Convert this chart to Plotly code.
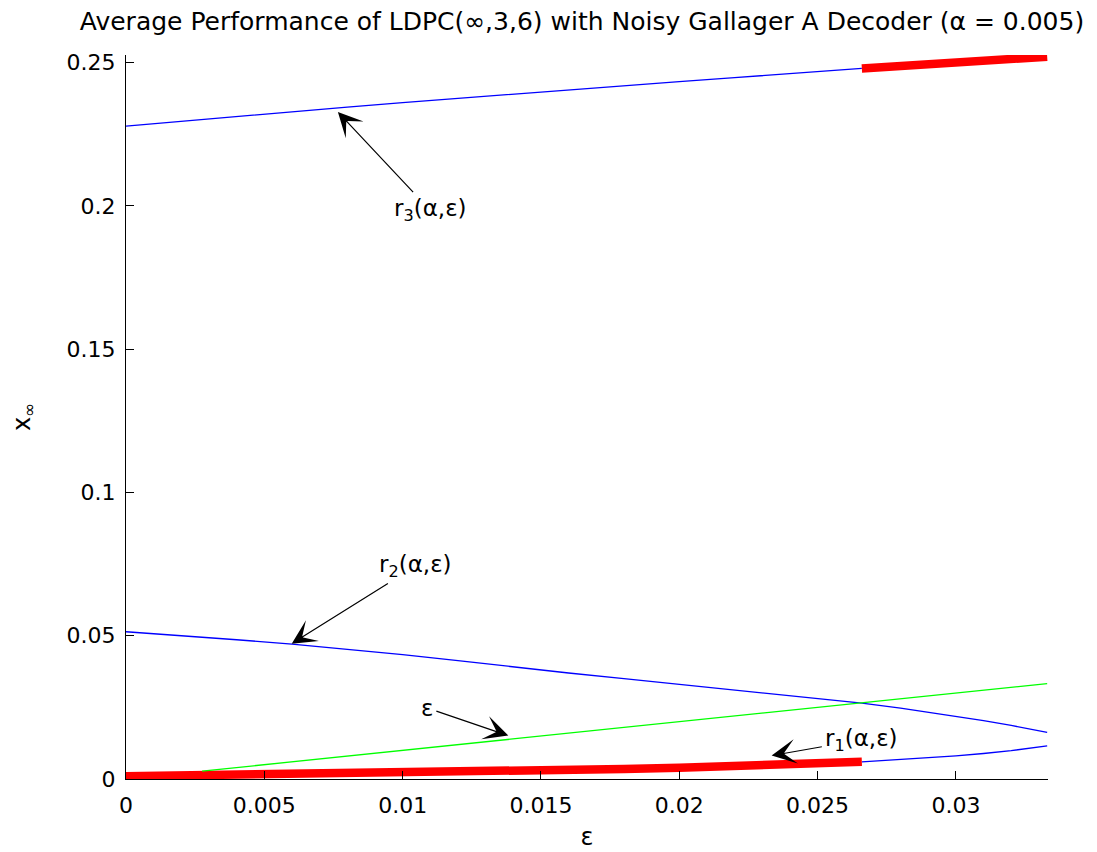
import plotly.graph_objects as go

# ---------------- data ----------------
eps = [0.0, 0.002, 0.004, 0.006, 0.008, 0.010, 0.012, 0.014, 0.016, 0.018,
       0.020, 0.022, 0.024, 0.026, 0.0266, 0.028, 0.029, 0.030, 0.031, 0.032, 0.0333]
r3 = [0.2279, 0.2296, 0.2313, 0.2329, 0.2345, 0.2361, 0.2376, 0.2391, 0.2406, 0.2420,
      0.2434, 0.2448, 0.2462, 0.2476, 0.2480, 0.2490, 0.2497, 0.2503, 0.2509, 0.2514, 0.2521]
r2 = [0.0514, 0.0501, 0.0486, 0.0471, 0.0453, 0.0434, 0.0413, 0.0391, 0.0370, 0.0350,
      0.0330, 0.0311, 0.0291, 0.0272, 0.0265, 0.0247, 0.0233, 0.0219, 0.0204, 0.0187, 0.0163]
r1 = [0.0010, 0.0012, 0.0014, 0.0016, 0.0018, 0.0021, 0.0024, 0.0027, 0.0031, 0.0035,
      0.0039, 0.0044, 0.0050, 0.0057, 0.0060, 0.0068, 0.0074, 0.0081, 0.0089, 0.0099, 0.0116]
eps_switch = 0.0266          # where the reached fixed point jumps from r1 to r3
eps_line_x = [0.00275, 0.0333]
eps_line_y = [0.00275, 0.0333]

x_ticks = [0, 0.005, 0.01, 0.015, 0.02, 0.025, 0.03]
x_tick_text = ["0", "0.005", "0.01", "0.015", "0.02", "0.025", "0.03"]
y_ticks = [0, 0.05, 0.1, 0.15, 0.2, 0.25]
y_tick_text = ["0", "0.05", "0.1", "0.15", "0.2", "0.25"]

label_text = ["r<sub>3</sub>(α,ε)", "r<sub>2</sub>(α,ε)", "ε", "r<sub>1</sub>(α,ε)"]
label_x = [0.01099, 0.01048, 0.01088, 0.0266]
label_y = [0.1986, 0.0744, 0.0248, 0.0137]
head_x = [0.00766, 0.00599, 0.01382, 0.02334]
head_y = [0.2328, 0.04723, 0.01514, 0.00816]

title_text = "Average Performance of LDPC(∞,3,6) with Noisy Gallager A Decoder (α = 0.005)"

# ---------------- figure ----------------
FONT = "DejaVu Sans"
BLUE, RED, GREEN = "#0000ff", "#ff0000", "#00ff00"
W, H = 1089, 844   # page body adds an 8px margin

i_sw = eps.index(eps_switch)
fig = go.Figure()
# blue (unreached) branches
fig.add_trace(go.Scatter(x=eps[:i_sw + 1], y=r3[:i_sw + 1], mode="lines",
                         line=dict(color=BLUE, width=1.3), hoverinfo="skip"))
fig.add_trace(go.Scatter(x=eps, y=r2, mode="lines",
                         line=dict(color=BLUE, width=1.3), hoverinfo="skip"))
fig.add_trace(go.Scatter(x=eps[i_sw:], y=r1[i_sw:], mode="lines",
                         line=dict(color=BLUE, width=1.3), hoverinfo="skip"))
# red (reached) branches
fig.add_trace(go.Scatter(x=eps[:i_sw + 1], y=r1[:i_sw + 1], mode="lines",
                         line=dict(color=RED, width=8.5), hoverinfo="skip"))
fig.add_trace(go.Scatter(x=eps[i_sw:], y=r3[i_sw:], mode="lines",
                         line=dict(color=RED, width=8.5), hoverinfo="skip"))
# epsilon line
fig.add_trace(go.Scatter(x=eps_line_x, y=eps_line_y, mode="lines",
                         line=dict(color=GREEN, width=1.3), hoverinfo="skip"))

annotations = []
for t, lx, ly, hx, hy in zip(label_text, label_x, label_y, head_x, head_y):
    annotations.append(dict(x=hx, y=hy, ax=lx, ay=ly, xref="x", yref="y",
                            axref="x", ayref="y", text=t, showarrow=True,
                            xanchor="center", yanchor="middle",
                            arrowhead=3, arrowsize=3.4, arrowwidth=1.2,
                            arrowcolor="black", standoff=0, startstandoff=2,
                            font=dict(family=FONT, size=23, color="black")))

axis_common = dict(showline=True, linecolor="black", linewidth=1, mirror=False,
                   ticks="inside", ticklen=8, tickwidth=1, tickcolor="black",
                   showgrid=False, zeroline=False, automargin=False,
                   tickfont=dict(family=FONT, size=22, color="black"))

fig.update_layout(
    width=W, height=H,
    margin=dict(l=118, r=49, t=47, b=72.6, pad=0),
    paper_bgcolor="white", plot_bgcolor="white",
    showlegend=False,
    title=dict(text=title_text, x=574 / W, xanchor="center", xref="container",
               y=1 - 13 / H, yanchor="middle", yref="container",
               font=dict(family=FONT, size=25, color="black")),
    xaxis=dict(range=[0, 0.03333], tickvals=x_ticks, ticktext=x_tick_text,
               ticklabelstandoff=7,
               title=dict(text="ε", standoff=10,
                          font=dict(family=FONT, size=24, color="black")),
               **axis_common),
    yaxis=dict(range=[0, 0.2527], tickvals=y_ticks, ticktext=y_tick_text,
               ticklabelstandoff=5,
               title=dict(text="x<sub>∞</sub>", standoff=30,
                          font=dict(family=FONT, size=24, color="black")),
               **axis_common),
    annotations=annotations,
)

fig.write_html("out.html")
